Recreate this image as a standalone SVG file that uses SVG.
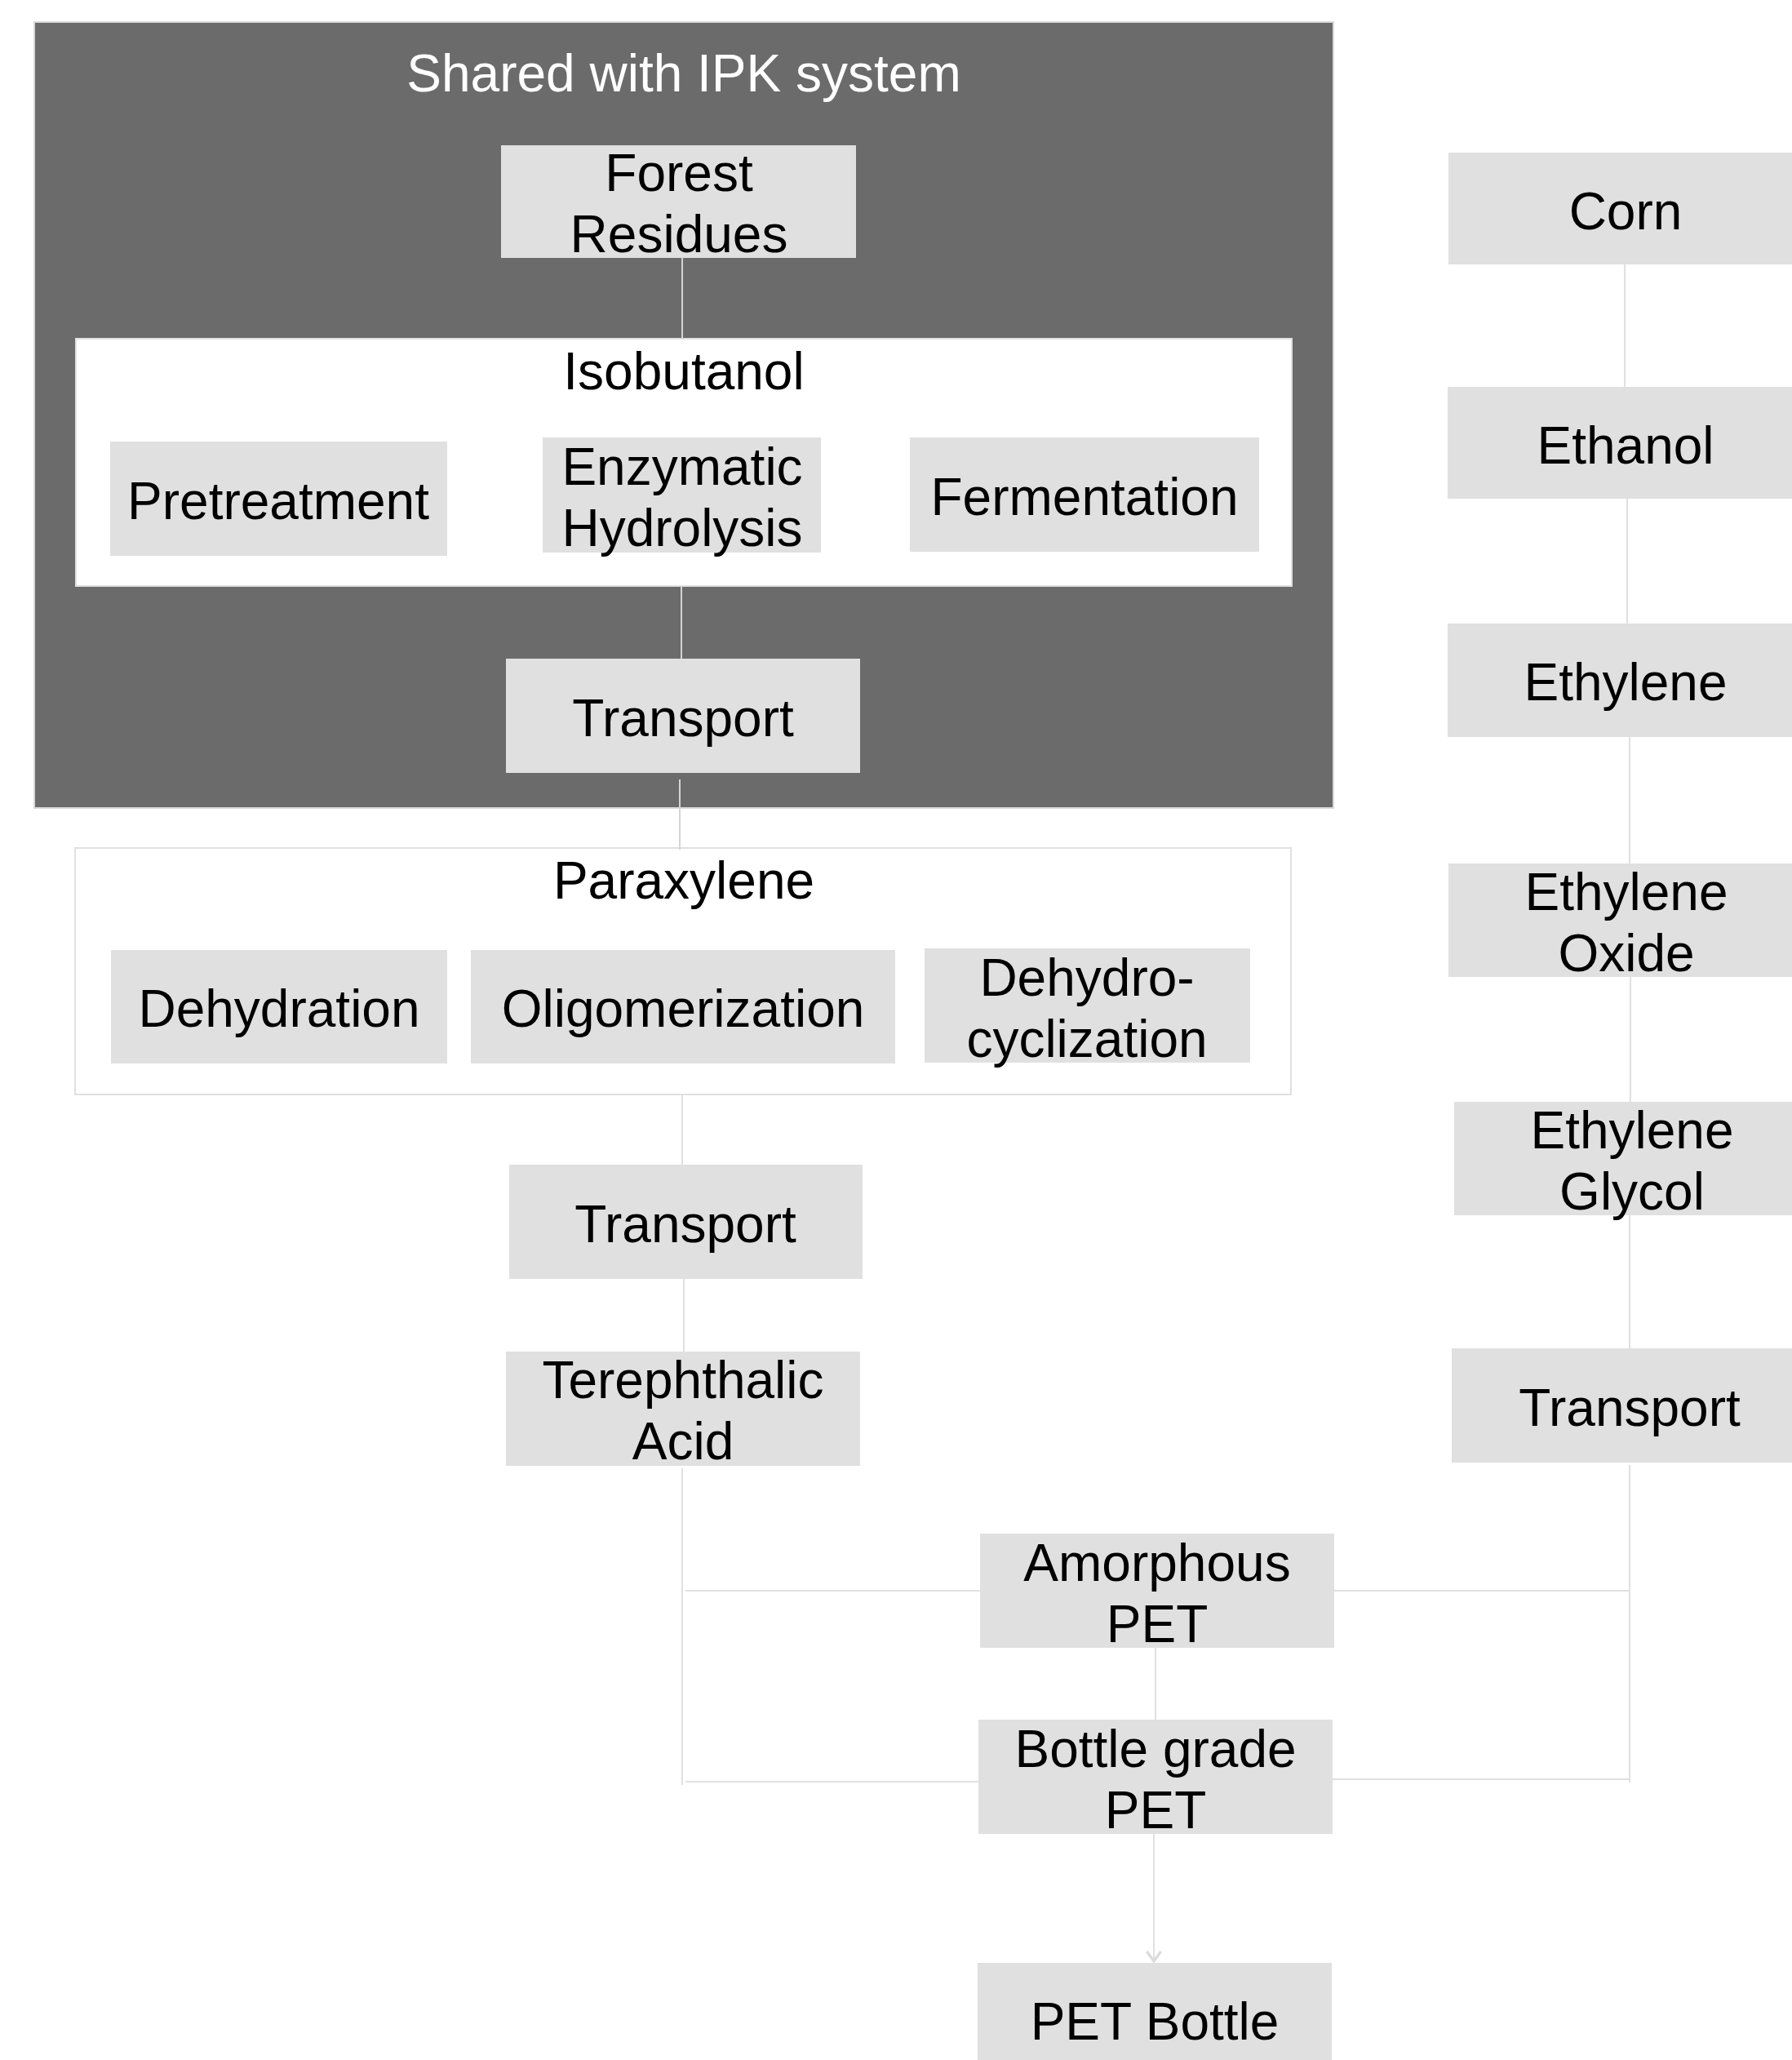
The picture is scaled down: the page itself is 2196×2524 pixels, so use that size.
<svg xmlns="http://www.w3.org/2000/svg" width="2196" height="2524" viewBox="0 0 2196 2524">
  <style>
    .box { fill: #e0e0e0; }
    .t { font-family: "Liberation Sans", Arial, sans-serif; font-size: 64px; fill: #000; text-anchor: middle; }
    .w { fill: #ffffff; }
    .conn { stroke: #e0e0e0; stroke-width: 2; fill: none; }
    .conn-in { stroke: #d4d4d4; stroke-width: 2; fill: none; }
  </style>
  <defs>
    <marker id="arrow" markerUnits="userSpaceOnUse" markerWidth="30" markerHeight="30" viewBox="-15 -15 30 30" refX="0" refY="0" orient="auto">
      <path d="M -12 -8.5 L 0 0 L -12 8.5" fill="none" stroke="#dcdcdc" stroke-width="3.5"/>
    </marker>
  </defs>
  <rect width="2196" height="2524" fill="#ffffff"/>

  <!-- Containers -->
  <g id="shared-ipk">
    <rect x="42" y="27" width="1592" height="963" fill="#6b6b6b" stroke="#d9d9d9" stroke-width="2"/>
    <text class="t w" x="838" y="112">Shared with IPK system</text>
  </g>
  <g id="isobutanol">
    <rect x="93" y="415" width="1490" height="303" fill="#ffffff" stroke="#e0e0e0" stroke-width="2"/>
    <text class="t" x="838" y="477">Isobutanol</text>
  </g>
  <g id="paraxylene">
    <rect x="92" y="1039" width="1490" height="302" fill="#ffffff" stroke="#e0e0e0" stroke-width="2"/>
    <text class="t" x="838" y="1101">Paraxylene</text>
  </g>

  <!-- Connectors -->
  <g id="connectors">
    <line class="conn-in" x1="836" y1="316" x2="836" y2="415"/>
    <line class="conn-in" x1="835" y1="718" x2="835" y2="807"/>
    <line class="conn-in" x1="833" y1="955" x2="833" y2="1041"/>
    <line class="conn" x1="836" y1="1341" x2="836" y2="1427"/>
    <line class="conn" x1="838" y1="1567" x2="838" y2="1656"/>
    <line class="conn" x1="836" y1="1799" x2="836" y2="2187"/>
    <line class="conn" x1="840" y1="1949" x2="1201" y2="1949"/>
    <line class="conn" x1="840" y1="2183" x2="1199" y2="2183"/>
    <line class="conn" x1="1991" y1="324" x2="1991" y2="474"/>
    <line class="conn" x1="1994" y1="611" x2="1994" y2="764"/>
    <line class="conn" x1="1997" y1="903" x2="1997" y2="1058"/>
    <line class="conn" x1="1998" y1="1197" x2="1998" y2="1350"/>
    <line class="conn" x1="1997" y1="1489" x2="1997" y2="1652"/>
    <line class="conn" x1="1997" y1="1795" x2="1997" y2="2184"/>
    <line class="conn" x1="1635" y1="1949" x2="1997" y2="1949"/>
    <line class="conn" x1="1633" y1="2180" x2="1997" y2="2180"/>
    <line class="conn" x1="1416" y1="2019" x2="1416" y2="2107"/>
    <line class="conn" x1="1414" y1="2247" x2="1414" y2="2403" marker-end="url(#arrow)"/>
  </g>

  <!-- Nodes -->
  <g id="forest-residues">
    <rect class="box" x="614" y="178" width="435" height="138"/>
    <text class="t" x="832" y="234">Forest</text>
    <text class="t" x="832" y="309">Residues</text>
  </g>
  <g id="pretreatment">
    <rect class="box" x="135" y="541" width="413" height="140"/>
    <text class="t" x="341" y="636">Pretreatment</text>
  </g>
  <g id="enzymatic-hydrolysis">
    <rect class="box" x="665" y="536" width="341" height="141"/>
    <text class="t" x="836" y="594">Enzymatic</text>
    <text class="t" x="836" y="669">Hydrolysis</text>
  </g>
  <g id="fermentation">
    <rect class="box" x="1115" y="536" width="428" height="140"/>
    <text class="t" x="1329" y="631">Fermentation</text>
  </g>
  <g id="transport-1">
    <rect class="box" x="620" y="807" width="434" height="140"/>
    <text class="t" x="837" y="902">Transport</text>
  </g>
  <g id="dehydration">
    <rect class="box" x="136" y="1164" width="412" height="139"/>
    <text class="t" x="342" y="1258">Dehydration</text>
  </g>
  <g id="oligomerization">
    <rect class="box" x="577" y="1164" width="520" height="139"/>
    <text class="t" x="837" y="1258">Oligomerization</text>
  </g>
  <g id="dehydrocyclization">
    <rect class="box" x="1133" y="1162" width="399" height="140"/>
    <text class="t" x="1332" y="1220">Dehydro-</text>
    <text class="t" x="1332" y="1295">cyclization</text>
  </g>
  <g id="transport-2">
    <rect class="box" x="624" y="1427" width="433" height="140"/>
    <text class="t" x="840" y="1522">Transport</text>
  </g>
  <g id="terephthalic-acid">
    <rect class="box" x="620" y="1656" width="434" height="140"/>
    <text class="t" x="837" y="1713">Terephthalic</text>
    <text class="t" x="837" y="1788">Acid</text>
  </g>
  <g id="corn">
    <rect class="box" x="1775" y="187" width="434" height="137"/>
    <text class="t" x="1992" y="281">Corn</text>
  </g>
  <g id="ethanol">
    <rect class="box" x="1774" y="474" width="434" height="137"/>
    <text class="t" x="1992" y="568">Ethanol</text>
  </g>
  <g id="ethylene">
    <rect class="box" x="1774" y="764" width="434" height="139"/>
    <text class="t" x="1992" y="858">Ethylene</text>
  </g>
  <g id="ethylene-oxide">
    <rect class="box" x="1775" y="1058" width="434" height="139"/>
    <text class="t" x="1993" y="1115">Ethylene</text>
    <text class="t" x="1993" y="1190">Oxide</text>
  </g>
  <g id="ethylene-glycol">
    <rect class="box" x="1782" y="1350" width="434" height="139"/>
    <text class="t" x="2000" y="1407">Ethylene</text>
    <text class="t" x="2000" y="1482">Glycol</text>
  </g>
  <g id="transport-3">
    <rect class="box" x="1779" y="1652" width="434" height="140"/>
    <text class="t" x="1997" y="1747">Transport</text>
  </g>
  <g id="amorphous-pet">
    <rect class="box" x="1201" y="1879" width="434" height="140"/>
    <text class="t" x="1418" y="1937">Amorphous</text>
    <text class="t" x="1418" y="2012">PET</text>
  </g>
  <g id="bottle-grade-pet">
    <rect class="box" x="1199" y="2107" width="434" height="140"/>
    <text class="t" x="1416" y="2165">Bottle grade</text>
    <text class="t" x="1416" y="2240">PET</text>
  </g>
  <g id="pet-bottle">
    <rect class="box" x="1198" y="2405" width="434" height="140"/>
    <text class="t" x="1415" y="2499">PET Bottle</text>
  </g>
</svg>
